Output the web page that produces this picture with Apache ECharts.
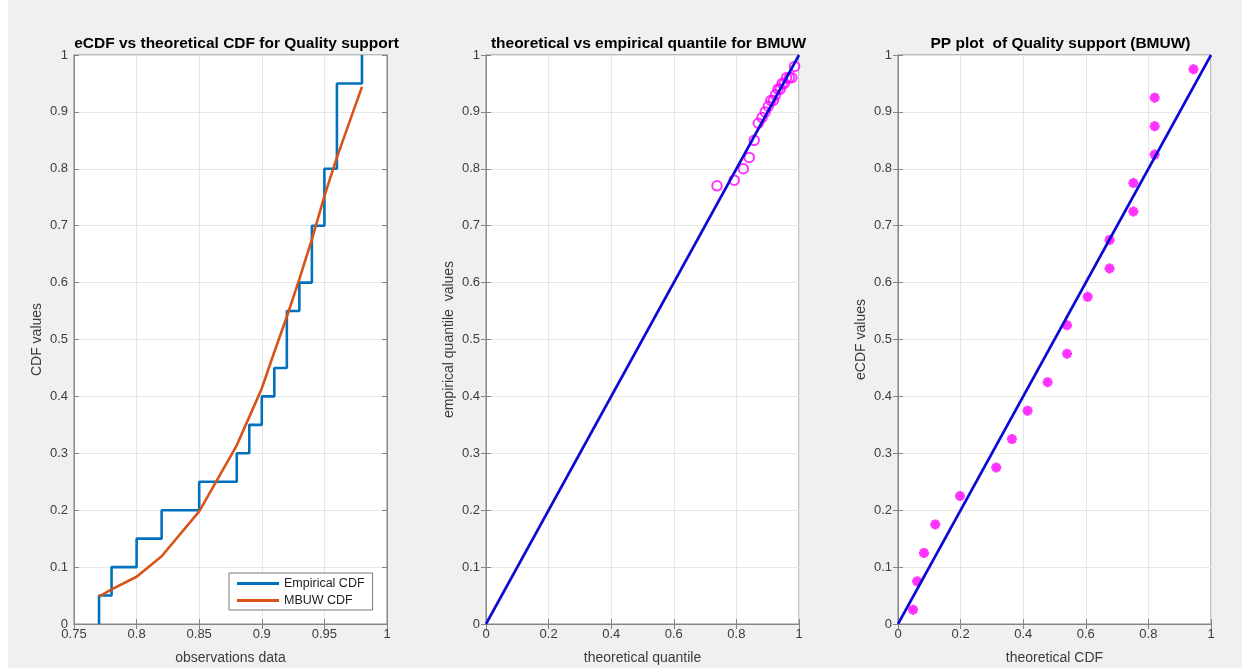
<!DOCTYPE html>
<html>
<head>
<meta charset="utf-8">
<script src="https://cdn.jsdelivr.net/npm/echarts@6/dist/echarts.min.js"></script>
<style>
html,body{margin:0;padding:0;background:#fff;}
#c{position:absolute;left:0;top:0;width:1242px;height:671px;}
</style>
</head>
<body>
<div id="c"></div>
<script>
// ---- Data ----
// Panel 1: empirical CDF step points (x, F) and MBUW theoretical CDF at observations
const ecdfX = [0.77, 0.77, 0.78, 0.80, 0.82, 0.85, 0.88, 0.89, 0.90, 0.91, 0.92, 0.93, 0.94, 0.95, 0.96, 0.98];
const ecdfY = [0.00, 0.05, 0.10, 0.15, 0.20, 0.25, 0.30, 0.35, 0.40, 0.45, 0.55, 0.60, 0.70, 0.80, 0.95, 1.00];
const cdfX  = [0.77, 0.78, 0.80, 0.82, 0.85, 0.88, 0.89, 0.90, 0.91, 0.92, 0.93, 0.94, 0.95, 0.96, 0.98];
const cdfY  = [0.048, 0.061, 0.083, 0.119, 0.198, 0.314, 0.364, 0.414, 0.478, 0.540, 0.606, 0.676, 0.752, 0.820, 0.944];
// Panel 2: QQ plot (theoretical quantile, empirical quantile)
const qqTheo = [0.738, 0.793, 0.822, 0.841, 0.857, 0.870, 0.882, 0.892, 0.902, 0.910, 0.918, 0.925, 0.933, 0.940, 0.946, 0.953, 0.960, 0.969, 0.977, 0.986];
const qqEmp  = [0.77, 0.78, 0.80, 0.82, 0.85, 0.88, 0.89, 0.90, 0.91, 0.92, 0.92, 0.93, 0.94, 0.94, 0.95, 0.95, 0.96, 0.96, 0.96, 0.98];
// Panel 3: PP plot (theoretical CDF, eCDF)
const ppTheo = [0.048, 0.061, 0.083, 0.119, 0.198, 0.314, 0.364, 0.414, 0.478, 0.540, 0.540, 0.606, 0.676, 0.676, 0.752, 0.752, 0.820, 0.820, 0.820, 0.944];
const ppEmp  = [0.025, 0.075, 0.125, 0.175, 0.225, 0.275, 0.325, 0.375, 0.425, 0.475, 0.525, 0.575, 0.625, 0.675, 0.725, 0.775, 0.825, 0.875, 0.925, 0.975];
// Reference diagonal
const diagX = [0, 1];
const diagY = [0, 1];

const titles = ['eCDF vs theoretical CDF for Quality support', 'theoretical vs empirical quantile for BMUW', 'PP plot  of Quality support (BMUW)'];
const xNames = ['observations data', 'theoretical quantile', 'theoretical CDF'];
const yNames = ['CDF values', 'empirical quantile  values', 'eCDF values'];
const xRanges = [[0.75, 1, 0.05], [0, 1, 0.2], [0, 1, 0.2]];
const legendNames = ['Empirical CDF', 'MBUW CDF'];

const zip = (a, b) => a.map((v, i) => [v, b[i]]);

// ---- Layout ----
const gridLeft = [74, 486, 898];
const gridTop = 55, gridW = 313, gridH = 569;
const FONT = 'Liberation Sans, Arial, Helvetica, sans-serif';
const axisCol = '#858585';
const labelCol = '#3c3c3c';

const grids = [], xAxes = [], yAxes = [], titleArr = [];
for (let i = 0; i < 3; i++) {
  grids.push({left: gridLeft[i], top: gridTop, width: gridW, height: gridH, show: true,
    backgroundColor: '#ffffff', borderColor: axisCol, borderWidth: 1, containLabel: false});
  xAxes.push({type: 'value', gridIndex: i, min: xRanges[i][0], max: xRanges[i][1], interval: xRanges[i][2],
    name: xNames[i], nameLocation: 'middle', nameGap: 27,
    nameTextStyle: {fontFamily: FONT, fontSize: 14, color: labelCol},
    axisLine: {show: true, lineStyle: {color: axisCol}},
    axisTick: {show: true, inside: true, length: 5, lineStyle: {color: axisCol}},
    axisLabel: {fontFamily: FONT, fontSize: 13, color: labelCol, margin: 4},
    splitLine: {show: true, lineStyle: {color: '#e6e6e6', width: 1}}});
  xAxes.push({type: 'value', gridIndex: i, position: 'top', min: xRanges[i][0], max: xRanges[i][1], interval: xRanges[i][2],
    axisLine: {show: true, lineStyle: {color: axisCol}},
    axisTick: {show: true, inside: true, length: 5, lineStyle: {color: axisCol}},
    axisLabel: {show: false}, splitLine: {show: false}});
  yAxes.push({type: 'value', gridIndex: i, min: 0, max: 1, interval: 0.1,
    name: yNames[i], nameLocation: 'middle', nameGap: 30, nameRotate: 90,
    nameTextStyle: {fontFamily: FONT, fontSize: 14, color: labelCol},
    axisLine: {show: true, lineStyle: {color: axisCol}},
    axisTick: {show: true, inside: true, length: 5, lineStyle: {color: axisCol}},
    axisLabel: {fontFamily: FONT, fontSize: 13, color: labelCol, margin: 6},
    splitLine: {show: true, lineStyle: {color: '#e6e6e6', width: 1}}});
  yAxes.push({type: 'value', gridIndex: i, position: 'right', min: 0, max: 1, interval: 0.1,
    axisLine: {show: true, lineStyle: {color: axisCol}},
    axisTick: {show: true, inside: true, length: 5, lineStyle: {color: axisCol}},
    axisLabel: {show: false}, splitLine: {show: false}});
  titleArr.push({text: titles[i], left: gridLeft[i] + gridW / 2 + 1, top: 31, textAlign: 'center',
    textStyle: {fontFamily: FONT, fontSize: 15.5, fontWeight: 'bold', color: '#000'}});
}

const asterisk = 'path://M5,0L5,10M0,5L10,5M1.5,1.5L8.5,8.5M1.5,8.5L8.5,1.5';

const option = {
  backgroundColor: '#f0f0f0',
  animation: false,
  title: titleArr,
  grid: grids,
  xAxis: xAxes,
  yAxis: yAxes,
  legend: {
    orient: 'vertical', left: 229, top: 573,
    data: legendNames.map(n => ({name: n, icon: 'rect'})),
    itemWidth: 42, itemHeight: 3, itemGap: 4,
    padding: [4, 8, 3, 8],
    backgroundColor: '#ffffff', borderColor: '#7a7a7a', borderWidth: 1, borderRadius: 0,
    textStyle: {fontFamily: FONT, fontSize: 12.5, color: '#222'}
  },
  graphic: [
    {type: 'rect', left: 0, top: 0, shape: {width: 8, height: 671}, style: {fill: '#ffffff'}, silent: true},
    {type: 'rect', left: 0, top: 668, shape: {width: 1242, height: 3}, style: {fill: '#ffffff'}, silent: true}
  ],
  series: [
    {name: legendNames[0], type: 'line', xAxisIndex: 0, yAxisIndex: 0, data: zip(ecdfX, ecdfY), step: 'end',
      showSymbol: false, symbol: 'none', lineStyle: {color: '#0072BD', width: 2.6}, itemStyle: {color: '#0072BD'}},
    {name: legendNames[1], type: 'line', xAxisIndex: 0, yAxisIndex: 0, data: zip(cdfX, cdfY),
      showSymbol: false, symbol: 'none', lineStyle: {color: '#D95319', width: 2.6}, itemStyle: {color: '#D95319'}},
    {type: 'line', xAxisIndex: 2, yAxisIndex: 2, data: zip(diagX, diagY), symbol: 'none',
      lineStyle: {color: '#0a0ad6', width: 2.6}},
    {type: 'scatter', xAxisIndex: 2, yAxisIndex: 2, data: zip(qqTheo, qqEmp), symbol: 'circle', symbolSize: 9.5,
      itemStyle: {color: 'rgba(255,255,255,0)', borderColor: '#ff00ff', borderWidth: 2}},
    {type: 'line', xAxisIndex: 4, yAxisIndex: 4, data: zip(diagX, diagY), symbol: 'none',
      lineStyle: {color: '#0a0ad6', width: 2.6}},
    {type: 'scatter', xAxisIndex: 4, yAxisIndex: 4, data: zip(ppTheo, ppEmp), symbol: asterisk, symbolSize: 10,
      itemStyle: {color: '#ff00ff', borderColor: '#ff00ff', borderWidth: 3}}
  ]
};

const chart = echarts.init(document.getElementById('c'), null, {renderer: 'canvas'});
chart.setOption(option);
</script>
</body>
</html>
